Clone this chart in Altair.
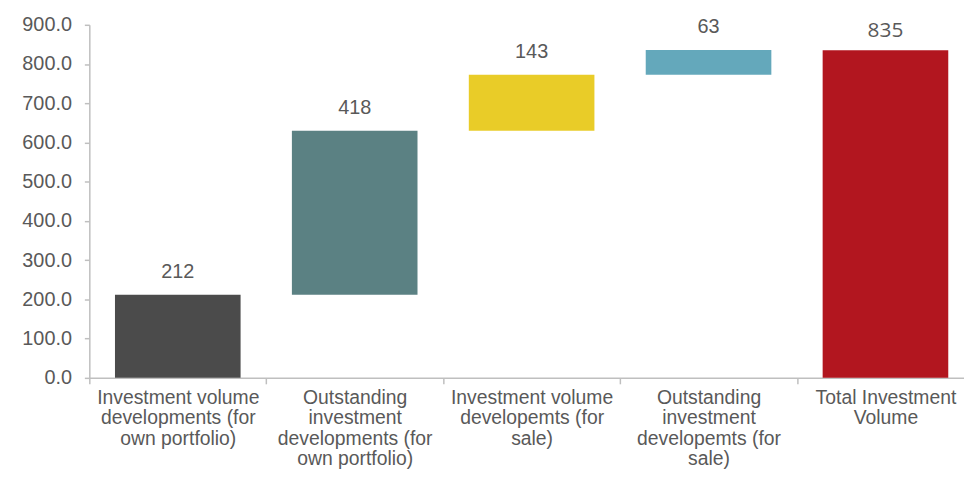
import altair as alt
import pandas as pd

categories = [
    "Investment volume|developments (for|own portfolio)",
    "Outstanding|investment|developments (for|own portfolio)",
    "Investment volume|developemts (for|sale)",
    "Outstanding|investment|developemts (for|sale)",
    "Total Investment|Volume",
]
values = [212, 418, 143, 63, 835]
is_total = [False, False, False, False, True]
colors = ["#4b4b4b", "#5b8183", "#e9cc28", "#64a8bb", "#b2161f"]
y_ticks = [0, 100, 200, 300, 400, 500, 600, 700, 800, 900]

starts, ends = [], []
running = 0
for v, t in zip(values, is_total):
    if t:
        starts.append(0)
        ends.append(v)
    else:
        starts.append(running)
        running += v
        ends.append(running)

df = pd.DataFrame({
    "cat": categories,
    "value": values,
    "start": starts,
    "end": ends,
    "total": is_total,
    "color": colors,
})

STEP = 892 / 5

x_axis = alt.Axis(
    labelExpr="split(datum.label, '|')",
    labelAngle=0,
    labelFont="Liberation Sans",
    labelFontSize=19.5,
    labelColor="#595959",
    labelLineHeight=20.5,
    labelPadding=5,
    labelLimit=300,
    labelOverlap=False,
    domainColor="#bfbfbf",
    domainWidth=1.5,
    tickColor="#bfbfbf",
    tickSize=6,
    tickWidth=1.5,
    tickOffset=-STEP / 2,
    labelOffset=STEP / 2,
    ticks=True,
    grid=False,
)
x_scale = alt.Scale(range=[0, 892], paddingInner=0.29, paddingOuter=0.145)

y_scale = alt.Scale(domain=[0, 900], nice=False)
y_axis = alt.Axis(
    values=y_ticks,
    format=".1f",
    labelFont="Liberation Sans",
    labelFontSize=20,
    labelColor="#595959",
    labelPadding=13,
    labelOverlap=False,
    labelBound=False,
    labelFlush=False,
    domainColor="#bfbfbf",
    domainWidth=1.5,
    tickColor="#bfbfbf",
    tickSize=5,
    tickWidth=1.5,
    grid=False,
    title=None,
)

def xenc():
    return alt.X("cat:N", sort=categories, title=None, scale=x_scale, axis=x_axis)

base = alt.Chart(df)

bars = base.mark_bar().encode(
    x=xenc(),
    y=alt.Y("start:Q", scale=y_scale, axis=y_axis),
    y2="end:Q",
    color=alt.Color("color:N", scale=None),
)

labels = base.transform_filter("!datum.total").mark_text(
    font="Liberation Sans", fontSize=20, color="#595959", baseline="middle", dy=-23
).encode(
    x=xenc(),
    y=alt.Y("end:Q", scale=y_scale, axis=y_axis),
    text=alt.Text("value:Q", format="d"),
)

total_label = base.transform_filter("datum.total").mark_text(
    font="Open Sans", fontSize=21, color="#595959", baseline="middle", dy=-19
).encode(
    x=xenc(),
    y=alt.Y("end:Q", scale=y_scale, axis=y_axis),
    text=alt.Text("value:Q", format="d"),
)

chart = alt.layer(bars, labels, total_label).properties(
    width=882,
    height=356,
    autosize=alt.AutoSizeParams(type="none"),
    padding={"left": 82, "top": 15, "right": 0, "bottom": 95},
).configure_view(stroke=None)

chart.save("out.html", embed_options={"renderer": "svg", "actions": False})
